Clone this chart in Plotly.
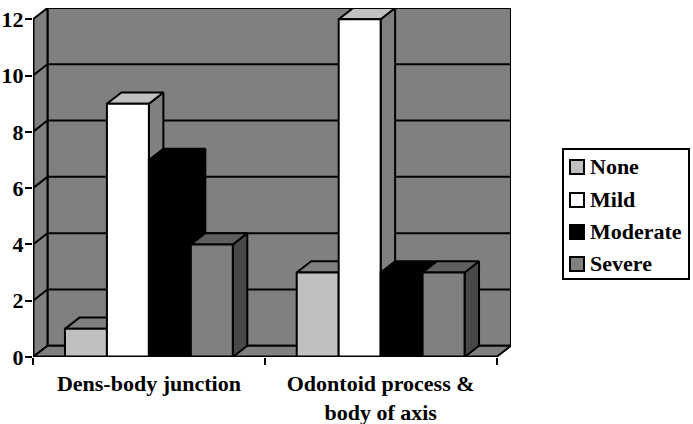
import plotly.graph_objects as go

categories = ['Dens-body junction', 'Odontoid process &<br>body of axis']
series_names = ['None', 'Mild', 'Moderate', 'Severe']
none_values = [1, 3]
mild_values = [9, 12]
moderate_values = [7, 3]
severe_values = [4, 3]
y_ticks = [0, 2, 4, 6, 8, 10, 12]

series_values = [none_values, mild_values, moderate_values, severe_values]
front_colors = ['#c0c0c0', '#ffffff', '#000000', '#808080']
top_colors = ['#808080', '#c0c0c0', '#000000', '#606060']
side_colors = ['#606060', '#808080', '#000000', '#484848']

# depth of the fake 3d box, in axis units
DX = 0.0625
DY = 0.4
GAP = 32 / 232
BAR_W = (1 - 2 * GAP) / 4
WALL = '#808080'
LINE = dict(color='black', width=2)
FONT = 'Liberation Serif'

# plot area in pixels
L, R, T, B = 33, 511, 8.2, 357


def face(fig, xs, ys, color):
    fig.add_trace(go.Scatter(x=xs + xs[:1], y=ys + ys[:1], mode='lines', fill='toself',
                             fillcolor=color, line=LINE, showlegend=False, hoverinfo='skip'))


def px_x(p):
    return (p - L) / (R - L)


def px_y(p):
    return (B - p) / (B - T)


fig = go.Figure()

# walls and floor
face(fig, [DX, 2 + DX, 2 + DX, DX], [DY, DY, 12 + DY, 12 + DY], WALL)
face(fig, [0, DX, DX, 0], [0, DY, 12 + DY, 12], WALL)
face(fig, [0, 2, 2 + DX, DX], [0, 0, DY, DY], WALL)

# gridlines along the left wall and the back wall
for v in y_ticks[1:-1]:
    fig.add_trace(go.Scatter(x=[0, DX, 2 + DX], y=[v, v + DY, v + DY], mode='lines', line=LINE,
                             showlegend=False, hoverinfo='skip'))

# bars, left to right so each one hides the side of the previous one
for g in range(len(categories)):
    for s, values in enumerate(series_values):
        v = values[g]
        x0 = g + GAP + s * BAR_W
        x1 = x0 + BAR_W
        face(fig, [x1, x1 + DX, x1 + DX, x1], [0, DY, v + DY, v], side_colors[s])
        face(fig, [x0, x1, x1 + DX, x0 + DX], [v, v, v + DY, v + DY], top_colors[s])
        face(fig, [x0, x1, x1, x0], [0, 0, v, v], front_colors[s])

# front axis lines
fig.add_trace(go.Scatter(x=[0, 0], y=[0, 12], mode='lines', line=dict(color='black', width=3),
                         showlegend=False, hoverinfo='skip'))
fig.add_trace(go.Scatter(x=[0, 2], y=[0, 0], mode='lines', line=dict(color='black', width=3),
                         showlegend=False, hoverinfo='skip'))

for tr in fig.data:
    tr.cliponaxis = False

# legend box drawn by hand, plotly's own one can't get the swatches this tight
fig.add_shape(type='rect', xref='paper', yref='paper', x0=px_x(563), x1=px_x(689), y0=px_y(149), y1=px_y(279),
              line=dict(color='black', width=2), fillcolor='white')
legend_rows = [167, 200, 232, 264]
for name, color, row in zip(series_names, front_colors, legend_rows):
    fig.add_shape(type='rect', xref='paper', yref='paper', x0=px_x(570), x1=px_x(584),
                  y0=px_y(row - 7), y1=px_y(row + 7), line=dict(color='black', width=2), fillcolor=color)
    fig.add_annotation(text='<b>' + name + '</b>', xref='paper', yref='paper', x=px_x(588), y=px_y(row),
                       xanchor='left', yanchor='middle', showarrow=False, font=dict(family=FONT, size=22))

fig.update_layout(
    width=693, height=424,
    margin=dict(l=L, r=693 - R, t=T, b=424 - B),
    paper_bgcolor='white', plot_bgcolor='white',
    font=dict(family=FONT, color='black', size=22),
    showlegend=False,
)
fig.update_xaxes(range=[0, 2 + DX], tickmode='array', tickvals=[0.5, 1.5],
                 ticktext=['<b>' + c + '</b>' for c in categories], automargin=False,
                 ticks='', ticklabelstandoff=11, showgrid=False, zeroline=False, showline=False,
                 minor=dict(tickmode='array', tickvals=[0, 1, 2], ticks='outside', ticklen=7, tickwidth=2,
                            tickcolor='black', showgrid=False),
                 tickfont=dict(family=FONT, size=22))
fig.update_yaxes(range=[0, 12 + DY], tickmode='array', tickvals=y_ticks, ticks='outside', ticklen=7, tickwidth=2,
                 ticklabelstandoff=-3, tickcolor='black', showgrid=False, zeroline=False, showline=False,
                 automargin=False, tickfont=dict(family=FONT, size=22, weight='bold'))

# the page's default body margin would push the chart 8px off
fig.write_html("out.html", config=dict(displayModeBar=False), post_script="document.body.style.margin='0';")
